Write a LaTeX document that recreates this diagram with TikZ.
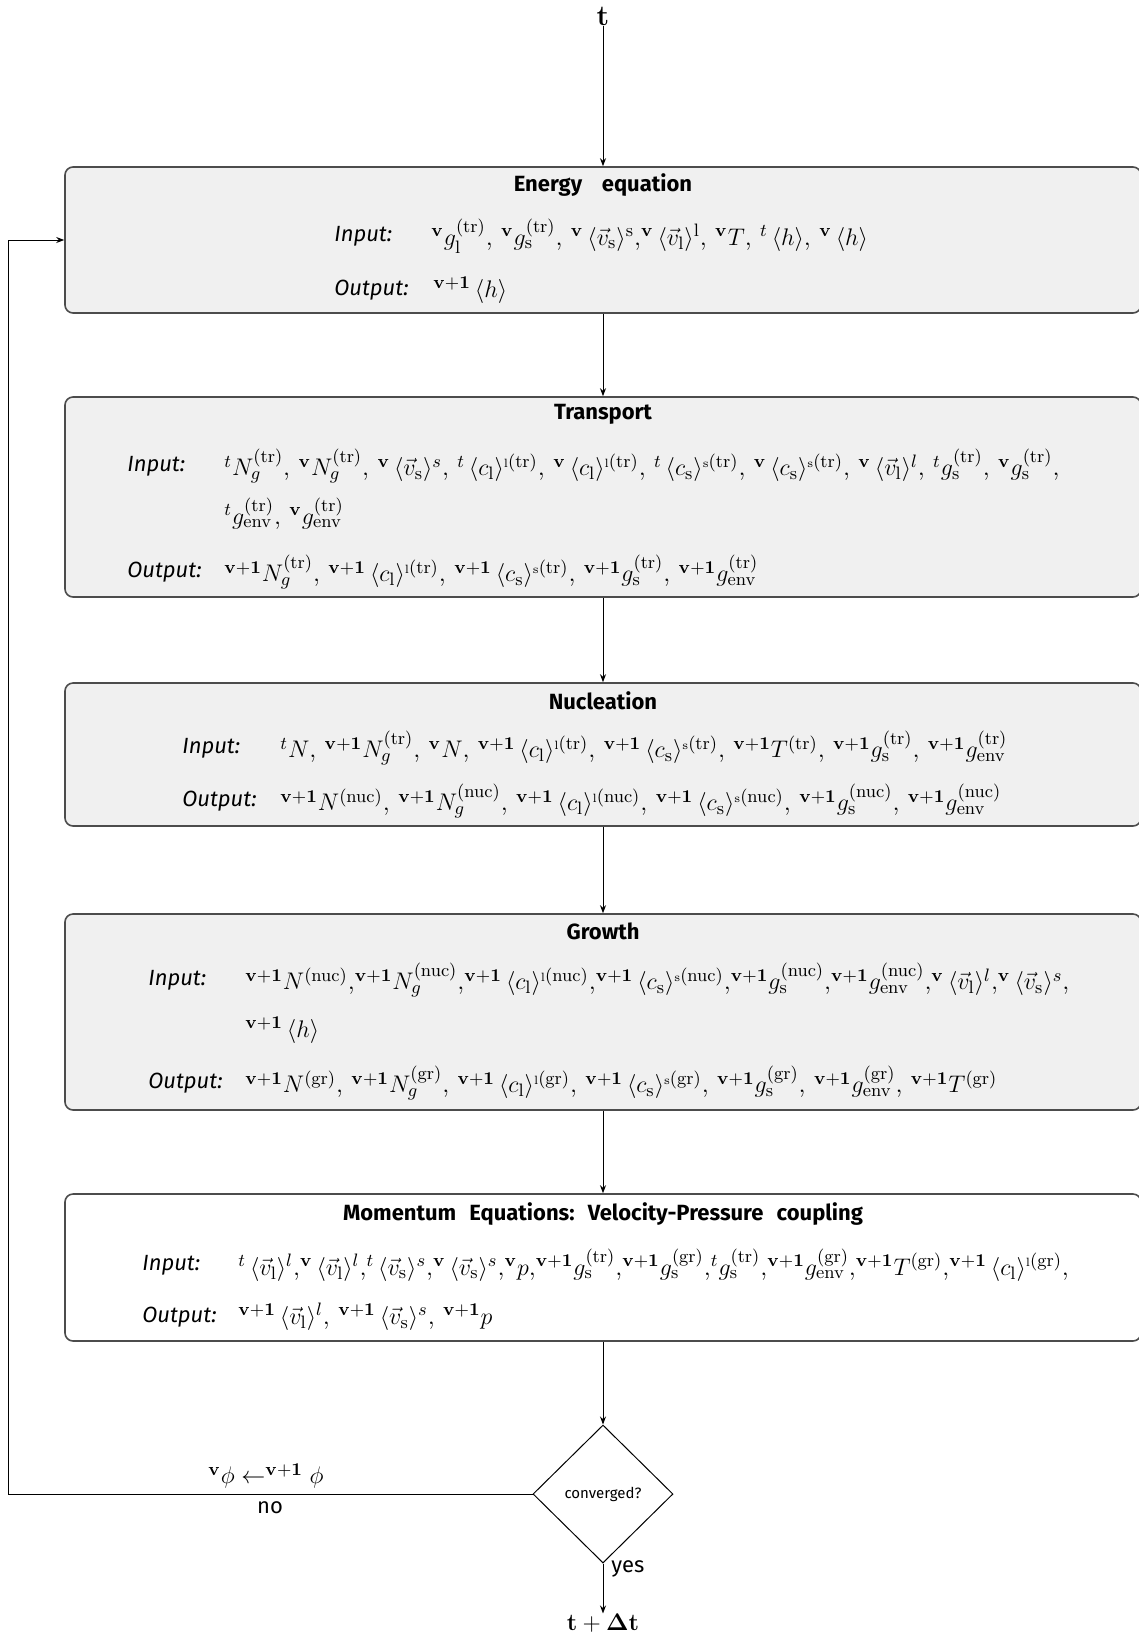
\documentclass[tikz,border=0pt]{standalone}
\usepackage[no-math]{fontspec}
\usepackage{amsmath}
\newfontfamily\sff{Fira Sans}
\usetikzlibrary{shapes.geometric,arrows.meta}
\newcommand{\vv}{{}^{\mathbf{v}}}
\newcommand{\vp}{{}^{\mathbf{v+1}}}
\newcommand{\rmx}[1]{\mathrm{#1}}
\newcommand{\ang}[1]{\,\langle #1\rangle}
\newcommand{\cL}[1]{\ang{c_{\mathrm{l}}}^{\scriptscriptstyle\mathrm{l}\scriptstyle(\mathrm{#1})}}
\newcommand{\cS}[1]{\ang{c_{\mathrm{s}}}^{\scriptscriptstyle\mathrm{s}\scriptstyle(\mathrm{#1})}}
\tikzset{
  box/.style={draw=black!70, line width=0.8pt, rounded corners=4pt, fill=black!6, minimum width=538pt, inner sep=0pt},
  whitebox/.style={box, fill=white},
  title/.style={font=\sff\bfseries\fontsize{11}{13}\selectfont, inner sep=0pt},
  lab/.style={font=\sff\itshape\fontsize{11}{13}\selectfont, anchor=west, inner sep=0pt},
  row/.style={font=\fontsize{12.8}{15}\selectfont, anchor=west, inner sep=0pt},
  arr/.style={-{Stealth[length=4pt,width=3pt]}, line width=0.5pt},
  dec/.style={diamond, draw, line width=0.5pt, minimum width=70pt, minimum height=69pt, inner sep=0pt, font=\sff\fontsize{7.5}{9}\selectfont},
  mlab/.style={font=\fontsize{12.5}{15}\selectfont, inner sep=0pt},
  endlab/.style={font=\fontsize{13}{16}\selectfont, inner sep=0pt},
  toplab/.style={font=\fontsize{14}{17}\selectfont, inner sep=0pt},
  slab/.style={font=\sff\fontsize{11}{13}\selectfont, inner sep=0pt}
}
\begin{document}
\begin{tikzpicture}[x=0.5pt,y=-0.5pt]
\useasboundingbox (0,0) rectangle (1139,1635);
% top
\node[toplab] (t) at (603,16) {$\mathbf{t}$};
% boxes
\node[box, minimum height=73pt] (b1) at (603,240) {};
\node[box, minimum height=100pt] (b2) at (603,497) {};
\node[box, minimum height=71.5pt] (b3) at (603,754.5) {};
\node[box, minimum height=98pt] (b4) at (603,1012) {};
\node[whitebox, minimum height=73.5pt] (b5) at (603,1267.5) {};
% box 1
\node[title] (b1t) at (603,185) {Energy\hspace{0.9em}equation};
\node[lab] (b1il) at (334,236) {Input:};
\node[row] (b1i) at (431,236) {$\vv g_{\rmx{l}}^{(\rmx{tr})}$, $\vv g_{\rmx{s}}^{(\rmx{tr})}$, $\vv\ang{\vec{v}_{\rmx{s}}}^{\rmx{s}}$,$\vv\ang{\vec{v}_{\rmx{l}}}^{\rmx{l}}$, $\vv T$, ${}^{t}\ang{h}$, $\vv\ang{h}$};
\node[lab] (b1ol) at (334,290) {Output:};
\node[row] (b1o) at (433,290) {$\vp\ang{h}$};
% box 2
\node[title] (b2t) at (603,414) {Transport};
\node[lab] (b2il) at (127,466) {Input:};
\node[row] (b2i) at (224,466) {${}^{t}N_g^{(\rmx{tr})}$, $\vv N_g^{(\rmx{tr})}$, $\vv\ang{\vec{v}_{\rmx{s}}}^{s}$, ${}^{t}\cL{tr}$, $\vv\cL{tr}$, ${}^{t}\cS{tr}$, $\vv\cS{tr}$, $\vv\ang{\vec{v}_{\rmx{l}}}^{l}$, ${}^{t}g_{\rmx{s}}^{(\rmx{tr})}$, $\vv g_{\rmx{s}}^{(\rmx{tr})}$,};
\node[row] (b2i2) at (224,514) {${}^{t}g_{\rmx{env}}^{(\rmx{tr})}$, $\vv g_{\rmx{env}}^{(\rmx{tr})}$};
\node[lab] (b2ol) at (127,572) {Output:};
\node[row] (b2o) at (224,572) {$\vp N_g^{(\rmx{tr})}$, $\vp\cL{tr}$, $\vp\cS{tr}$, $\vp g_{\rmx{s}}^{(\rmx{tr})}$, $\vp g_{\rmx{env}}^{(\rmx{tr})}$};
% box 3
\node[title] (b3t) at (603,701) {Nucleation};
\node[lab] (b3il) at (182,748) {Input:};
\node[row] (b3i) at (280,748) {${}^{t}N$, $\vp N_g^{(\rmx{tr})}$, $\vv N$, $\vp\cL{tr}$, $\vp\cS{tr}$, $\vp T^{(\rmx{tr})}$, $\vp g_{\rmx{s}}^{(\rmx{tr})}$, $\vp g_{\rmx{env}}^{(\rmx{tr})}$};
\node[lab] (b3ol) at (182,801) {Output:};
\node[row] (b3o) at (280,801) {$\vp N^{(\rmx{nuc})}$, $\vp N_g^{(\rmx{nuc})}$, $\vp\cL{nuc}$, $\vp\cS{nuc}$, $\vp g_{\rmx{s}}^{(\rmx{nuc})}$, $\vp g_{\rmx{env}}^{(\rmx{nuc})}$};
% box 4
\node[title] (b4t) at (603,931) {Growth};
\node[lab] (b4il) at (148,980) {Input:};
\node[row] (b4i) at (245,980) {$\vp N^{(\rmx{nuc})}$,$\vp N_g^{(\rmx{nuc})}$,$\vp\cL{nuc}$,$\vp\cS{nuc}$,$\vp g_{\rmx{s}}^{(\rmx{nuc})}$,$\vp g_{\rmx{env}}^{(\rmx{nuc})}$,$\vv\ang{\vec{v}_{\rmx{l}}}^{l}$,$\vv\ang{\vec{v}_{\rmx{s}}}^{s}$,};
\node[row] (b4i2) at (245,1030) {$\vp\ang{h}$};
\node[lab] (b4ol) at (148,1083) {Output:};
\node[row] (b4o) at (245,1083) {$\vp N^{(\rmx{gr})}$, $\vp N_g^{(\rmx{gr})}$, $\vp\cL{gr}$, $\vp\cS{gr}$, $\vp g_{\rmx{s}}^{(\rmx{gr})}$, $\vp g_{\rmx{env}}^{(\rmx{gr})}$, $\vp T^{(\rmx{gr})}$};
% box 5
\node[title] (b5t) at (603,1214) {Momentum\hspace{0.6em}Equations:\hspace{0.6em}Velocity-Pressure\hspace{0.6em}coupling};
\node[lab] (b5il) at (142,1265) {Input:};
\node[row] (b5i) at (238,1265) {${}^{t}\ang{\vec{v}_{\rmx{l}}}^{l}$,$\vv\ang{\vec{v}_{\rmx{l}}}^{l}$,${}^{t}\ang{\vec{v}_{\rmx{s}}}^{s}$,$\vv\ang{\vec{v}_{\rmx{s}}}^{s}$,$\vv p$,$\vp g_{\rmx{s}}^{(\rmx{tr})}$,$\vp g_{\rmx{s}}^{(\rmx{gr})}$,${}^{t}g_{\rmx{s}}^{(\rmx{tr})}$,$\vp g_{\rmx{env}}^{(\rmx{gr})}$,$\vp T^{(\rmx{gr})}$,$\vp\cL{gr}$,};
\node[lab] (b5ol) at (142,1317) {Output:};
\node[row] (b5o) at (238,1317) {$\vp\ang{\vec{v}_{\rmx{l}}}^{l}$, $\vp\ang{\vec{v}_{\rmx{s}}}^{s}$, $\vp p$};
% decision
\node[dec] (conv) at (603,1494) {converged?};
\node[endlab] (tdt) at (603,1623) {$\mathbf{t+\Delta t}$};
\node[mlab] (upd) at (266,1476) {${}^{\mathbf{v}}\phi\leftarrow^{\mathbf{v+1}}\phi$};
\node[slab] (no) at (270,1508) {no};
\node[slab, anchor=west] (yes) at (611,1569) {yes};
\coordinate (lc) at (8,1494);
% connectors
\draw[arr] (t) -- (b1);
\draw[arr] (b1) -- (b2);
\draw[arr] (b2) -- (b3);
\draw[arr] (b3) -- (b4);
\draw[arr] (b4) -- (b5);
\draw[arr] (b5) -- (conv);
\draw[arr] (conv) -- (tdt);
\draw[arr] (conv.west) -- (lc) |- (b1.west);
\end{tikzpicture}
\end{document}
